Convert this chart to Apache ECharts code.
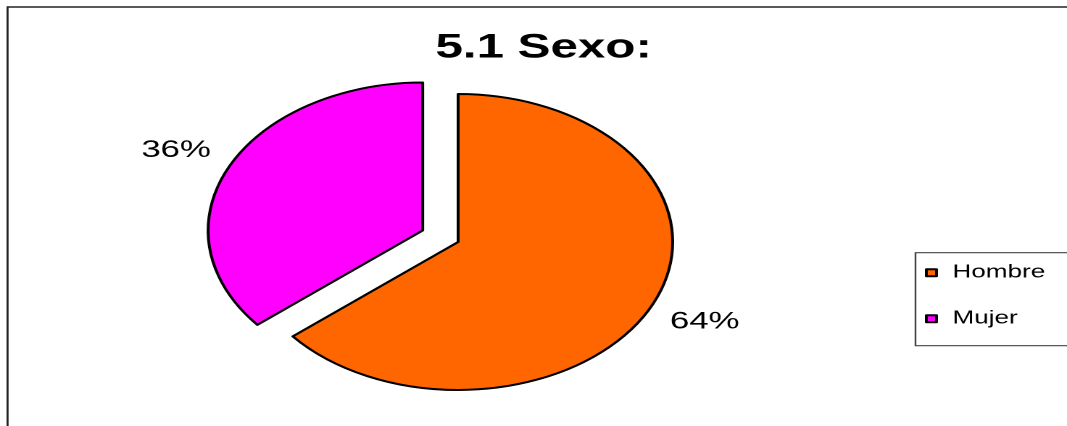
<!DOCTYPE html>
<html>
<head>
<meta charset="utf-8">
<script src="https://cdn.jsdelivr.net/npm/echarts@6/dist/echarts.min.js"></script>
<style>
  html, body { margin: 0; padding: 0; background: #fff; overflow: hidden; }
  #wrap { width: 1067px; height: 426px; overflow: hidden; position: relative; }
  #chart { width: 780px; height: 460px; transform: scaleX(1.4497); transform-origin: 0 0; }
</style>
</head>
<body>
<div id="wrap"><div id="chart"></div></div>
<script>
const titleText = '5.1 Sexo:';
const categories = ['Hombre', 'Mujer'];
const values = [64, 36];
const colors = ['#FF6600', '#FF00FF'];
const explodedIndex = 1;

const chart = echarts.init(document.getElementById('chart'), null, { renderer: 'canvas', devicePixelRatio: 2 });

const pieData = categories.map((name, i) => ({
  name: name,
  value: values[i],
  selected: i === explodedIndex,
  itemStyle: { color: colors[i] }
}));

chart.setOption({
  animation: false,
  backgroundColor: '#ffffff',
  title: {
    text: titleText,
    left: 370,
    textAlign: 'center',
    top: 26,
    textStyle: { fontFamily: 'Liberation Sans', fontWeight: 'bold', fontSize: 34, color: '#000' }
  },
  graphic: [{
    type: 'rect',
    silent: true,
    z: -10,
    shape: { x: 5.2, y: 7, width: 3000, height: 3000 },
    style: { fill: 'none', stroke: '#222', lineWidth: 1.4 }
  }],
  legend: {
    data: categories,
    orient: 'vertical',
    left: 631.5,
    top: 252.7,
    padding: [10, 60, 17, 6.5],
    itemWidth: 7,
    itemHeight: 7,
    itemGap: 26,
    icon: 'rect',
    borderColor: '#444',
    borderWidth: 1.2,
    selectedMode: false,
    textStyle: { fontFamily: 'Liberation Sans', fontSize: 18, color: '#000', lineHeight: 20, padding: [0, 0, 0, 6] },
    itemStyle: { borderColor: '#000', borderWidth: 2 }
  },
  series: [
    {
      type: 'pie',
      name: 'sexo',
      center: [316, 242],
      radius: [0, 148],
      startAngle: 90,
      clockwise: true,
      selectedMode: 'single',
      selectedOffset: 27,
      silent: true,
      label: { show: false },
      labelLine: { show: false },
      emphasis: { disabled: true },
      itemStyle: { borderColor: '#000', borderWidth: 2 },
      data: pieData
    },
    {
      type: 'pie',
      name: 'labels',
      center: [316, 242],
      radius: [0, 370],
      startAngle: 90,
      clockwise: true,
      selectedMode: 'single',
      selectedOffset: 27,
      silent: true,
      z: 5,
      itemStyle: { color: 'rgba(0,0,0,0)', borderWidth: 0 },
      emphasis: { disabled: true },
      labelLine: { show: false },
      label: {
        show: true,
        position: 'inside',
        fontFamily: 'Liberation Sans',
        fontSize: 24,
        color: '#000',
        formatter: p => Math.round(p.percent) + '%'
      },
      data: categories.map((name, i) => ({ name: name, value: values[i], selected: i === explodedIndex }))
    }
  ]
});
</script>
</body>
</html>
